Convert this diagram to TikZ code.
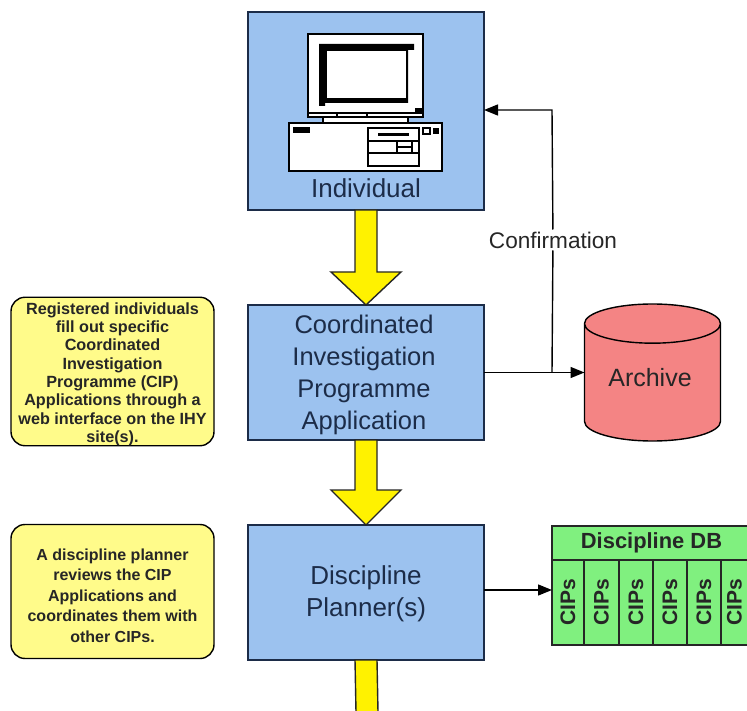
\documentclass[tikz,border=0pt]{standalone}
\usepackage{fontspec}
\setmainfont{Liberation Sans}
\usetikzlibrary{positioning,shapes.geometric,arrows.meta}

\definecolor{boxblue}{HTML}{9CC2EF}
\definecolor{noteyellow}{HTML}{FFFB8A}
\definecolor{dbgreen}{HTML}{80F07F}
\definecolor{archivered}{HTML}{F48484}
\definecolor{lineblue}{HTML}{1C2C48}

\tikzset{
    bluebox/.style={draw=lineblue, fill=boxblue, line width=1.4pt, minimum width=236pt, minimum height=135pt, outer sep=0pt, inner sep=0pt, align=center, font=\fontsize{26}{31.8}\selectfont, text=lineblue},
    notebox/.style={draw=black, fill=noteyellow, line width=1.4pt, rounded corners=14pt, minimum width=203pt, outer sep=0pt, inner sep=0pt, align=center, font=\bfseries, text=black!85},
    blockarrow/.style={draw=black!85, fill=yellow, line width=1.4pt, line join=miter},
    flowline/.style={draw=black, line width=1.4pt, -{Triangle[length=14pt,width=11pt]}},
    dbcell/.style={draw=black!85, fill=dbgreen, line width=1.2pt, outer sep=0pt, inner sep=0pt},
    ciptext/.style={rotate=90, inner sep=0pt, font=\fontsize{21}{21}\selectfont\bfseries, text=black!85},
    pcpart/.style={draw=black, fill=white, line width=1.2pt},
    pcblack/.style={fill=black}
}

\begin{document}
\begin{tikzpicture}[x=1pt, y=-1pt]
    \useasboundingbox (0,0) rectangle (747,711);
    \clip (0,0) rectangle (747,711);

    % Boxes
    \node [bluebox, minimum height=198pt] (indiv) at (366,111) {};
    \node [bluebox, below=95pt of indiv, font=\fontsize{25.5}{31.8}\selectfont] (app) {\rule{0pt}{23pt}\hspace*{-4pt}Coordinated\\\hspace*{-4pt}Investigation\\\hspace*{-4pt}Programme\\\hspace*{-4pt}Application};
    \node [bluebox, below=85pt of app] (planner) {\rule{0pt}{21pt}Discipline\\Planner(s)};
    \node [font=\fontsize{26}{32}\selectfont, text=lineblue] (indivlabel) at (366,188) {Individual};

    % Computer
    \draw [pcpart] (308,34) rectangle (423,113);
    \fill [pcblack] (319,44) -- (414,44) -- (414,50) -- (408,50) -- (408,103) -- (325,103) -- (325,106) -- (319,106) -- cycle;
    \fill [white] (327,51) rectangle (406,98);
    \fill [pcblack] (415,108) rectangle (422,113);
    \draw [pcpart] (308,113) rectangle (423,117);
    \draw [line width=1.2pt] (337,113) -- (337,117) (367,113) -- (367,117);
    \draw [pcpart] (323,117) rectangle (408,123);
    \draw [pcpart] (289,123) rectangle (442,171);
    \fill [pcblack] (293,127) rectangle (310,133);
    \draw [pcpart] (368,128) rectangle (419,166);
    \fill [pcblack] (378,133) rectangle (409,136);
    \draw [line width=1.2pt] (368,141) -- (419,141) (368,153) -- (419,153);
    \draw [line width=1.2pt] (397,141) rectangle (412,153) (397,147) -- (412,147);
    \draw [line width=1.2pt] (423,128) rectangle (430,134);
    \fill [pcblack] (433,128) rectangle (439,134);

    % Notes
    \node [notebox, minimum height=147pt, left=34pt of app, yshift=1pt, font=\fontsize{16.2}{18.3}\selectfont\bfseries] (note1) {\rule{0pt}{17pt}Registered individuals\\fill out specific\\Coordinated\\Investigation\\Programme (CIP)\\Applications through a\\web interface on the IHY\\site(s).};
    \node [notebox, minimum height=134pt, left=34pt of planner, yshift=1pt, font=\fontsize{16}{20.5}\selectfont\bfseries] (note2) {\rule{0pt}{20pt}A discipline planner\\reviews the CIP\\Applications and\\coordinates them with\\other CIPs.};

    % Archive
    \node [cylinder, shape border rotate=90, aspect=0.5, anchor=shape center, draw=black, fill=archivered, line width=1.4pt, minimum width=136pt, minimum height=137pt, outer sep=0pt, inner sep=0pt, font=\fontsize{25}{30}\selectfont, text=black!85] (archive) at (652.5,372.5) {\hspace*{-5pt}Archive\rule[-11pt]{0pt}{1pt}};

    % Discipline DB
    \node [dbcell, anchor=north west, minimum width=196pt, minimum height=34pt, font=\fontsize{21.9}{26}\selectfont\bfseries, text=black!85] (dbhead) at (552,526) {\hspace*{3pt}Discipline DB};
    \foreach \name/\xa/\wid in {a/552/32, b/584/35, c/619/34, d/653/34, e/687/34, f/721/27} {
        \node [dbcell, anchor=north west, minimum width=\wid pt, minimum height=85pt] (cell\name) at (\xa,560) {};
        \node [ciptext] at (cell\name.center) {CIPs};
    }

    % Block arrows
    \draw [blockarrow] ([xshift=-11pt]indiv.south) -- ++(0,62) -- ++(-24,0) -- (app.north) -- ++(35,-33) -- ++(-24,0) -- ([xshift=11pt]indiv.south) -- cycle;
    \draw [blockarrow] ([xshift=-11pt]app.south) -- ++(0,50) -- ++(-24,0) -- (planner.north) -- ++(35,-35) -- ++(-24,0) -- ([xshift=11pt]app.south) -- cycle;
    \coordinate (bottomend) at (366,712);
    \draw [blockarrow] ([xshift=-11pt]planner.south) -- ([xshift=-10pt]bottomend) -- ([xshift=12pt]bottomend) -- ([xshift=11pt]planner.south) -- cycle;

    % Arrows
    \draw [flowline] (app.east) -- (archive.west |- app.east);
    \coordinate (branch) at (552,372.5);
    \node [font=\fontsize{22.6}{26}\selectfont, text=black!85, fill=white, inner sep=2pt] (confirm) at (553,240) {Confirmation};
    \draw [flowline] (branch) -- (confirm) -- (branch |- 0,110) -- (indiv.east |- 0,110);
    \draw [flowline] (planner.east |- 0,590) -- (cella.west |- 0,590);
\end{tikzpicture}
\end{document}
